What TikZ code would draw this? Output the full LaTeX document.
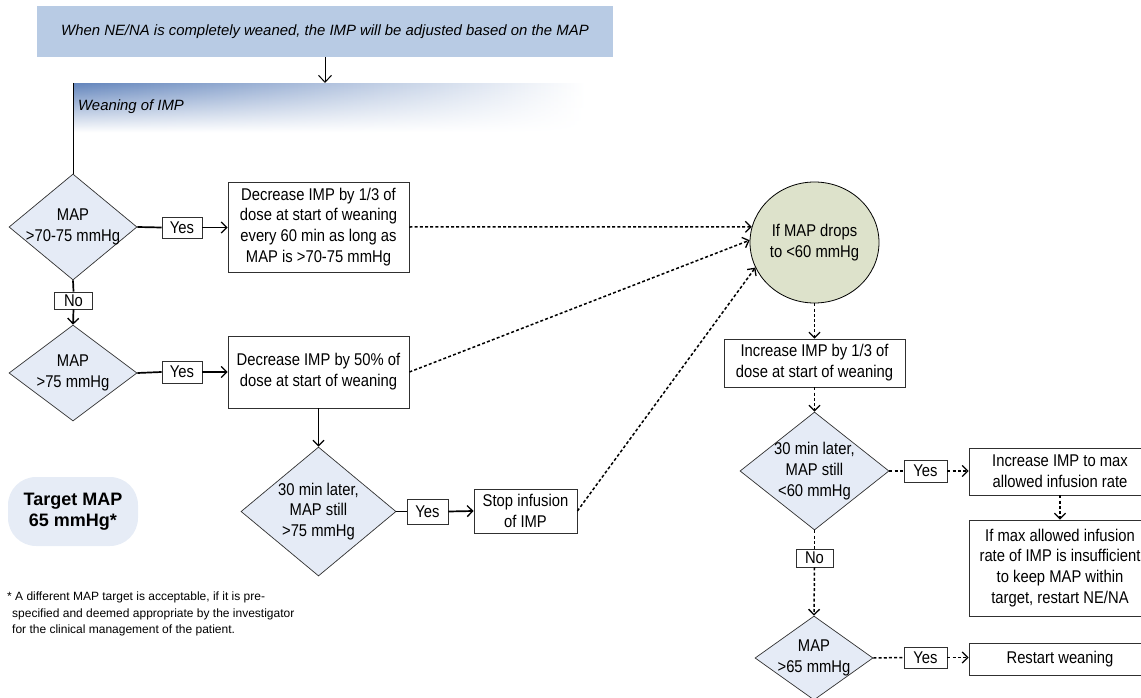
\documentclass[tikz,border=0pt]{standalone}
\usepackage{fontspec}
\setmainfont{Liberation Sans}
\newfontfamily\condsans{Liberation Sans}[FakeStretch=0.87]
\usetikzlibrary{arrows.meta,shapes.geometric,fadings}

\definecolor{bannerblue}{HTML}{B8CBE4}
\definecolor{diafill}{HTML}{E5EBF6}
\definecolor{circfill}{HTML}{DDE2CB}
\definecolor{targetfill}{HTML}{E6ECF6}
\definecolor{weandark}{HTML}{6385BC}
\definecolor{weanmid}{HTML}{A0B4D6}
\definecolor{edge}{HTML}{303030}

\begin{document}
\begin{tikzpicture}[x=1pt,y=-1pt,
  txt/.style={font=\condsans\fontsize{17pt}{20.8pt}\selectfont, align=center, inner sep=0pt},
  itxt/.style={font=\fontsize{14.9pt}{20.8pt}\selectfont\itshape, inner sep=0pt},
  stepbox/.style={txt, draw=edge, line width=0.8pt, fill=white},
  tag/.style={txt, draw=edge, line width=0.8pt, fill=white},
  dia/.style={shape=diamond, draw=edge, line width=0.7pt, fill=diafill, inner sep=0pt},
  tip/.style={-{Straight Barb[length=5.5pt,width=11pt,line width=1.3pt]}},
  solidline/.style={line width=1.7pt, draw=black},
  flow/.style={solidline, tip},
  dotline/.style={line width=1.5pt, dash pattern=on 3pt off 2.2pt},
  dotflow/.style={dotline, tip},
]
\useasboundingbox (0,0) rectangle (1141,698);

% header banner and the weaning strip
\node[itxt, fill=bannerblue, minimum width=576pt, minimum height=51pt] (top) at (325,31.5)
  {When NE/NA is completely weaned, the IMP will be adjusted based on the MAP};
\node[anchor=north west, minimum width=512pt, minimum height=49pt, inner sep=0pt,
      left color=weandark, middle color=weanmid, right color=white,
      path fading=south] (wean) at (73,83) {};
\node[itxt, anchor=west] (weantxt) at (78,107) {Weaning of IMP};
\draw[line width=0.9pt, -{Straight Barb[length=7pt,width=13pt,line width=1pt]}]
  (top.south) -- (top.south |- wean.north);

% decisions
\node[dia, minimum width=128pt, minimum height=106pt] (d1) at (73,227) {};
\node[txt] (d1t) at (d1) {MAP\\>70-75 mmHg};
\node[dia, minimum width=128pt, minimum height=96pt] (d2) at (73,373) {};
\node[txt] (d2t) at (d2) {MAP\\>75 mmHg};
\node[dia, minimum width=155pt, minimum height=129pt] (d3) at (318.5,511.5) {};
\node[txt] (d3t) at (d3) {30 min later,\\MAP still\\>75 mmHg};
\node[dia, minimum width=149pt, minimum height=118pt] (d4) at (814.5,471) {};
\node[txt] (d4t) at (d4) {30 min later,\\MAP still\\<60 mmHg};
\node[dia, minimum width=118pt, minimum height=84pt] (d5) at (814,658) {};
\node[txt] (d5t) at (d5) {MAP\\>65 mmHg};

% alarm state
\node[txt, ellipse, draw=black, line width=0.8pt, fill=circfill,
      minimum width=129pt, minimum height=121pt] (circ) at (814.5,242.5)
  {If MAP drops\\to <60 mmHg};

% action boxes
\node[stepbox, minimum width=181pt, minimum height=90pt] (b1) at (318.5,227)
  {Decrease IMP by 1/3 of\\dose at start of weaning\\every 60 min as long as\\MAP is >70-75 mmHg};
\node[stepbox, minimum width=181pt, minimum height=72pt] (b2) at (318.5,372)
  {Decrease IMP by 50\% of\\dose at start of weaning};
\node[stepbox, minimum width=103pt, minimum height=44pt] (stop) at (525.5,511)
  {Stop infusion\\of IMP};
\node[stepbox, minimum width=181pt, minimum height=48pt] (b3) at (814.5,363)
  {Increase IMP by 1/3 of\\dose at start of weaning};
\node[stepbox, minimum width=182pt, minimum height=47pt] (b4) at (1060,471.5)
  {Increase IMP to max\\allowed infusion rate};
\node[stepbox, minimum width=182pt, minimum height=96pt] (b5) at (1060,568)
  {If max allowed infusion\\rate of IMP is insufficient\\to keep MAP within\\target, restart NE/NA};
\node[stepbox, minimum width=182pt, minimum height=32pt] (b6) at (1060,659)
  {Restart weaning};

% yes / no tags
\node[tag, minimum width=40pt, minimum height=21pt] (y1) at (182,227.5) {Yes};
\node[tag, minimum width=40pt, minimum height=22pt] (y2) at (182,372) {Yes};
\node[tag, minimum width=38pt, minimum height=17pt] (n1) at (73.5,300.5) {No};
\node[tag, minimum width=41pt, minimum height=25pt] (y3) at (427.5,511.5) {Yes};
\node[tag, minimum width=43pt, minimum height=22pt] (y4) at (925.5,471) {Yes};
\node[tag, minimum width=37pt, minimum height=18pt] (n2) at (814.5,558) {No};
\node[tag, minimum width=43pt, minimum height=21pt] (y5) at (925.5,657.5) {Yes};

% target and footnote
\node[fill=targetfill, rounded corners=28pt, minimum width=130pt, minimum height=69pt,
      align=center, inner sep=0pt, font=\fontsize{18pt}{21pt}\selectfont\bfseries]
  (target) at (73,511.5) {Target MAP\\65 mmHg*};
\node[anchor=west, align=left, inner sep=0pt, font=\fontsize{12pt}{16.7pt}\selectfont]
  (note) at (7,614)
  {* A different MAP target is acceptable, if it is pre-\\
   \hspace*{5pt}specified and deemed appropriate by the investigator\\
   \hspace*{5pt}for the clinical management of the patient.};

% solid connectors
\draw[line width=0.9pt] (wean.north west) -- (d1.north);
\draw[solidline] (d1.east) -- (y1.west);
\draw[flow] (y1.east) -- (y1.east -| b1.west);
\draw[solidline] (d1.south) -- (n1.north);
\draw[flow] (n1.south) -- (d2.north);
\draw[solidline] (d2.east) -- (y2.west);
\draw[flow] (y2.east) -- (y2.east -| b2.west);
\draw[flow] (b2.south) -- (d3.north);
\draw[solidline] (d3.east) -- (y3.west);
\draw[flow] (y3.east) -- (stop.west);

% dotted connectors
\draw[dotflow] (b1.east) -- (circ.166);
\draw[dotflow] (b2.east) -- (circ.178);
\draw[dotflow] (stop.east) -- (circ.203);
\draw[dotflow] (circ.south) -- (b3.north);
\draw[dotflow] (b3.south) -- (d4.north);
\draw[dotline] (d4.east) -- (y4.west);
\draw[dotflow] (y4.east) -- (y4.east -| b4.west);
\draw[dotflow] (b4.south) -- (b5.north);
\draw[dotline] (d4.south) -- (n2.north);
\draw[dotflow] (n2.south) -- (d5.north);
\draw[dotline] (d5.east) -- (y5.west);
\draw[dotflow] (y5.east) -- (y5.east -| b6.west);
\end{tikzpicture}
\end{document}
